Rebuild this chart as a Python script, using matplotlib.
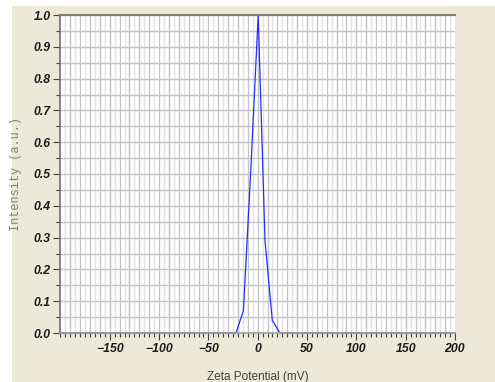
import matplotlib.pyplot as plt
from matplotlib.patches import Rectangle
from matplotlib.ticker import MultipleLocator, FormatStrFormatter

# zeta potential distribution (mV)
zeta = [-200, -22.0, -14.5, -7.2, 0.5, 7.4, 14.8, 22.5, 200]
intensity = [0.0, 0.0, 0.07, 0.5, 1.0, 0.29, 0.04, 0.0, 0.0]

x_ticks = [-150, -100, -50, 0, 50, 100, 150, 200]
y_ticks = [0.0, 0.1, 0.2, 0.3, 0.4, 0.5, 0.6, 0.7, 0.8, 0.9, 1.0]

beige = "#ece9d8"

fig = plt.figure(figsize=(4.95, 3.82), dpi=100)
fig.patch.set_facecolor("white")
fig.patches.append(Rectangle((12 / 495, 0), 1 - 12 / 495, 1 - 6 / 382,
                             transform=fig.transFigure, facecolor=beige,
                             edgecolor="none", zorder=-10))

ax = fig.add_axes([60.4 / 495, 49 / 382, 394.6 / 495, 318 / 382])
ax.set_facecolor("white")

ax.plot(zeta, intensity, color="#2a2aff", lw=0.9, zorder=2, clip_on=False)

ax.set_xlim(-200, 200)
ax.set_ylim(0, 1.0)
ax.set_xticks(x_ticks)
ax.set_yticks(y_ticks)
ax.xaxis.set_minor_locator(MultipleLocator(5))
ax.yaxis.set_minor_locator(MultipleLocator(0.05))
ax.yaxis.set_major_formatter(FormatStrFormatter("%.1f"))

# grid: light lines every 5 mV, darker every 10 mV, horizontal every 0.05
for v in range(-195, 200, 5):
    c = "#c4c4c4" if v % 10 == 0 else "#e2e2e2"
    ax.axvline(v, color=c, lw=1.0, zorder=1)
ax.grid(True, which="both", axis="y", color="#c4c4c4", lw=1.0, zorder=1)

for lab in ax.get_xticklabels() + ax.get_yticklabels():
    lab.set_fontfamily("Liberation Sans")
    lab.set_fontweight("bold")
    lab.set_fontstyle("italic")
    lab.set_fontsize(8.8)
    lab.set_color("#1a1a1a")

ax.tick_params(axis="both", which="major", length=5, width=0.8, color="#404040", pad=2)
ax.tick_params(axis="both", which="minor", length=3, width=0.8, color="#404040")

ax.spines["right"].set_visible(False)
ax.spines["top"].set_color("#808070")
ax.spines["top"].set_linewidth(1.5)
ax.spines["left"].set_color("#707070")
ax.spines["left"].set_linewidth(1.2)
ax.spines["bottom"].set_color("#a0a0a0")
ax.spines["bottom"].set_linewidth(1.2)
ax.spines["bottom"].set_zorder(2.6)

ax.set_xlabel("Zeta Potential (mV)", fontfamily="Liberation Sans", fontsize=8.5,
              color="#404040", labelpad=12)
ax.set_ylabel("Intensity (a.u.)", fontfamily="Liberation Mono", fontsize=8.6,
              color="#808080")
ax.yaxis.set_label_coords(-(60.4 - 22) / 394.6, 0.5)

fig.savefig("out.png", dpi=100, facecolor=fig.get_facecolor())
